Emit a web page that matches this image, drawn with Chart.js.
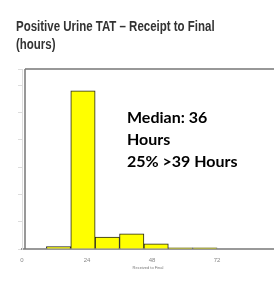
<!DOCTYPE html>
<html>
<head>
<style>
    body { margin: 0; background: #fff; }
    #wrap { position: relative; width: 274px; height: 283px; }
    #title {
        position: absolute; left: 16px; top: 17px; white-space: nowrap;
        font: bold 14px "Liberation Sans", Arial, sans-serif; line-height: 18px; color: #333;
        transform: scaleX(0.82); transform-origin: left top;
    }
    #note {
        position: absolute; left: 127px; top: 106px;
        font: bold 16px Lato, sans-serif; line-height: 22px; color: #000;
    }
</style>
</head>
<body>
<div id="wrap">
    <canvas id="chart" width="274" height="283"></canvas>
    <div id="title"></div>
    <div id="note">Median: 36<br>Hours<br>25% &gt;39 Hours</div>
</div>

<script src="https://cdn.jsdelivr.net/npm/chart.js"></script>
<script type="text/javascript">
    // histogram bins (hours), 9-hour wide
    const binStarts = [0, 9, 18, 27, 36, 45, 54, 63];
    const binSize = 9;
    const counts = [0, 0.9, 58, 4.4, 5.6, 1.9, 0.4, 0.4];
    const xTicks = [0, 24, 48, 72];
    const titleLines = ['Positive Urine TAT \u2013 Receipt to Final', '(hours)'];
    const xTitle = 'Received to Final';

    document.getElementById('title').innerHTML = titleLines.join('<br>');

    // dark frame on top / left of the plot area
    const frame = {
        id: 'frame',
        afterDraw(chart) {
            const a = chart.chartArea;
            const ctx = chart.ctx;
            ctx.save();
            ctx.strokeStyle = '#777';
            ctx.lineWidth = 1.5;
            ctx.beginPath();
            ctx.moveTo(a.left + 3, a.top);
            ctx.lineTo(a.right, a.top);
            ctx.moveTo(a.left + 3, a.top);
            ctx.lineTo(a.left + 3, a.bottom);
            ctx.stroke();
            ctx.restore();
        }
    };

    const points = binStarts.map((s, i) => ({x: s + binSize / 2, y: counts[i]}));

    new Chart(document.getElementById('chart'), {
        type: 'bar',
        data: {
            datasets: [{
                data: points,
                backgroundColor: '#ffff00',
                borderColor: '#222',
                borderWidth: 1,
                barPercentage: 1,
                categoryPercentage: 1
            }]
        },
        options: {
            responsive: false,
            animation: false,
            layout: {padding: {left: 18, right: 0, top: 69, bottom: 12}},
            scales: {
                x: {
                    type: 'linear',
                    min: 0,
                    max: 93,
                    offset: false,
                    afterBuildTicks: s => { s.ticks = xTicks.map(v => ({value: v})); },
                    grid: {display: false},
                    border: {color: '#999', width: 2},
                    ticks: {color: '#888', font: {size: 6}, padding: 0, maxRotation: 0},
                    title: {display: true, text: xTitle, color: '#777', font: {size: 4}, padding: 1}
                },
                y: {
                    min: 0,
                    max: 66,
                    ticks: {display: false, stepSize: 10},
                    grid: {drawOnChartArea: false, color: '#ddd', tickLength: 4},
                    border: {color: '#ddd', width: 1}
                }
            },
            plugins: {
                legend: {display: false},
                tooltip: {enabled: false}
            }
        },
        plugins: [frame]
    });
</script>
</body>
</html>
